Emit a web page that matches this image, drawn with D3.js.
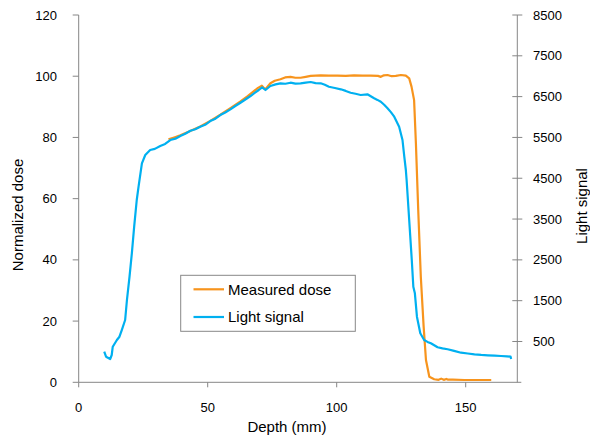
<!DOCTYPE html>
<html><head><meta charset="utf-8">
<script src="https://cdn.jsdelivr.net/npm/d3@7"></script>
<style>body{margin:0;background:#fff;} text{font-family:"Liberation Sans",Arial,sans-serif;fill:#000;}</style>
</head><body><svg id="c" width="590" height="439"></svg>
<script>
const xTicks = [0, 50, 100, 150];
const leftTicks = [0, 20, 40, 60, 80, 100, 120];
const rightTicks = [500, 1500, 2500, 3500, 4500, 5500, 6500, 7500, 8500];
const seriesNames = ["Measured dose", "Light signal"];

const doseDepth = [34.8,37,39.4,43,47.1,51,54.9,58.8,62.7,65.5,67.9,69.5,71.0,72.3,74.3,76,78.2,80,82.1,84,86.0,88,89.9,93.8,97,100.3,103.5,106.7,110,113.2,116,117.1,118.3,119.7,121.3,122.9,124.9,126.8,128.1,129.0,130.0,130.7,131.6,132.6,133.7,134.6,135.9,137.8,139.5,140.5,141.5,142.5,143.0,145,149.5,155,159.9];
const doseValue = [79.4,80.0,80.7,82.0,83.6,85.4,87.4,89.6,91.8,93.5,95.1,96.2,96.9,95.7,97.7,98.5,99.0,99.6,99.8,99.5,99.5,99.8,100.1,100.3,100.2,100.2,100.1,100.3,100.2,100.2,100.1,99.8,100.3,100.4,100.0,100.1,100.4,100.2,99.3,96.6,92.2,78.1,56.3,34.5,18.2,7.3,1.8,1.0,0.8,1.2,0.8,1.1,0.9,0.9,0.75,0.75,0.75];

const lightDepth = [9.9,10.6,12.2,12.8,13.2,14.8,15.8,16.7,18.0,18.7,19.7,20.6,21.5,22.5,23.2,24.5,25.8,27.7,29.5,31.6,33.5,35.5,37.5,39.4,41.3,43.3,45.2,47.1,49,51.0,53,54.9,56.8,58.8,60.7,62.7,64.6,66.6,68.2,69.8,71.1,72.4,74.3,76.3,78.2,80.1,82.1,84,86.0,88,89.9,91.8,93.8,95.4,97.0,99.3,101.6,103.5,105.4,107.3,109.3,111.9,114.5,115.8,117.1,118.4,119.7,121,122.3,124.2,125.5,126.2,126.8,127.1,128.1,129.1,129.7,130.3,131.1,132.4,133.9,135.2,136.5,139.1,141,143.0,145.5,148.2,150.8,153.4,156,158.6,161.2,163.7,166,167.4,167.6];
const lightValue = [250,127,71,169,372,536,617,781,1027,1517,2087,2661,3313,3967,4293,4866,5069,5192,5220,5290,5340,5437,5470,5535,5590,5664,5700,5763,5810,5902,5960,6049,6110,6189,6270,6351,6430,6515,6590,6662,6729,6662,6760,6800,6826,6815,6841,6820,6826,6845,6858,6830,6826,6790,6743,6710,6679,6640,6596,6570,6540,6557,6459,6420,6375,6300,6214,6120,6008,5763,5437,5028,4702,4457,3477,2497,1842,1681,1107,701,536,490,456,358,330,309,270,225,205,186,172,162,152,144,135,127,71];

const svg = d3.select("#c");
const L = 78.7, R = 517.3, T = 15, B = 382.3;
const x = d3.scaleLinear().domain([0, 170]).range([L, R]);
const yL = d3.scaleLinear().domain([0, 120]).range([B, T]);
const yR = d3.scaleLinear().domain([-500, 8500]).range([B, T]);
const axisCol = "#868686";

svg.append("line").attr("x1", L).attr("x2", R + 4).attr("y1", B).attr("y2", B).attr("stroke", axisCol);
svg.append("line").attr("x1", L).attr("x2", L).attr("y1", T).attr("y2", B).attr("stroke", axisCol);
svg.append("line").attr("x1", R).attr("x2", R).attr("y1", T).attr("y2", B).attr("stroke", axisCol);

leftTicks.forEach(v => {
  svg.append("line").attr("x1", L - 6).attr("x2", L).attr("y1", yL(v)).attr("y2", yL(v)).attr("stroke", axisCol);
  svg.append("text").attr("x", 57).attr("y", yL(v)).attr("dy", "0.35em").attr("text-anchor", "end").attr("font-size", 13).text(v);
});
rightTicks.forEach(v => {
  svg.append("line").attr("x1", R - 5).attr("x2", R + 5).attr("y1", yR(v)).attr("y2", yR(v)).attr("stroke", axisCol);
  svg.append("text").attr("x", 533).attr("y", yR(v)).attr("dy", "0.35em").attr("text-anchor", "start").attr("font-size", 13).text(v);
});
xTicks.forEach(v => {
  svg.append("line").attr("x1", x(v)).attr("x2", x(v)).attr("y1", B).attr("y2", B + 5).attr("stroke", axisCol);
  svg.append("text").attr("x", x(v)).attr("y", 407).attr("dy", "0.35em").attr("text-anchor", "middle").attr("font-size", 13).text(v);
});

svg.append("text").attr("x", 287).attr("y", 432).attr("text-anchor", "middle").attr("font-size", 15).text("Depth (mm)");
svg.append("text").attr("transform", "translate(23,215) rotate(-90)").attr("text-anchor", "middle").attr("font-size", 15).text("Normalized dose");
svg.append("text").attr("transform", "translate(587,206) rotate(-90)").attr("text-anchor", "middle").attr("font-size", 15).text("Light signal");

const orange = "#F7941D", blue = "#00B0F0";
const doseData = doseDepth.map((d, i) => [d, doseValue[i]]);
const lightData = lightDepth.map((d, i) => [d, lightValue[i]]);

svg.append("path").datum(doseData).attr("fill", "none").attr("stroke", orange).attr("stroke-width", 2.2)
  .attr("stroke-linejoin", "round")
  .attr("d", d3.line().x(d => x(d[0])).y(d => yL(d[1])));
svg.append("path").datum(lightData).attr("fill", "none").attr("stroke", blue).attr("stroke-width", 2.2)
  .attr("stroke-linejoin", "round")
  .attr("d", d3.line().x(d => x(d[0])).y(d => yR(d[1])));

const lg = svg.append("g");
lg.append("rect").attr("x", 180.7).attr("y", 275.3).attr("width", 174.6).attr("height", 56).attr("fill", "#fff").attr("stroke", "#888");
[orange, blue].forEach((c, i) => {
  const yy = 289.3 + i * 27.7;
  lg.append("line").attr("x1", 193.5).attr("x2", 224).attr("y1", yy).attr("y2", yy).attr("stroke", c).attr("stroke-width", 2.2);
  lg.append("text").attr("x", 228).attr("y", yy).attr("dy", "0.35em").attr("font-size", 15).text(seriesNames[i]);
});
</script></body></html>
